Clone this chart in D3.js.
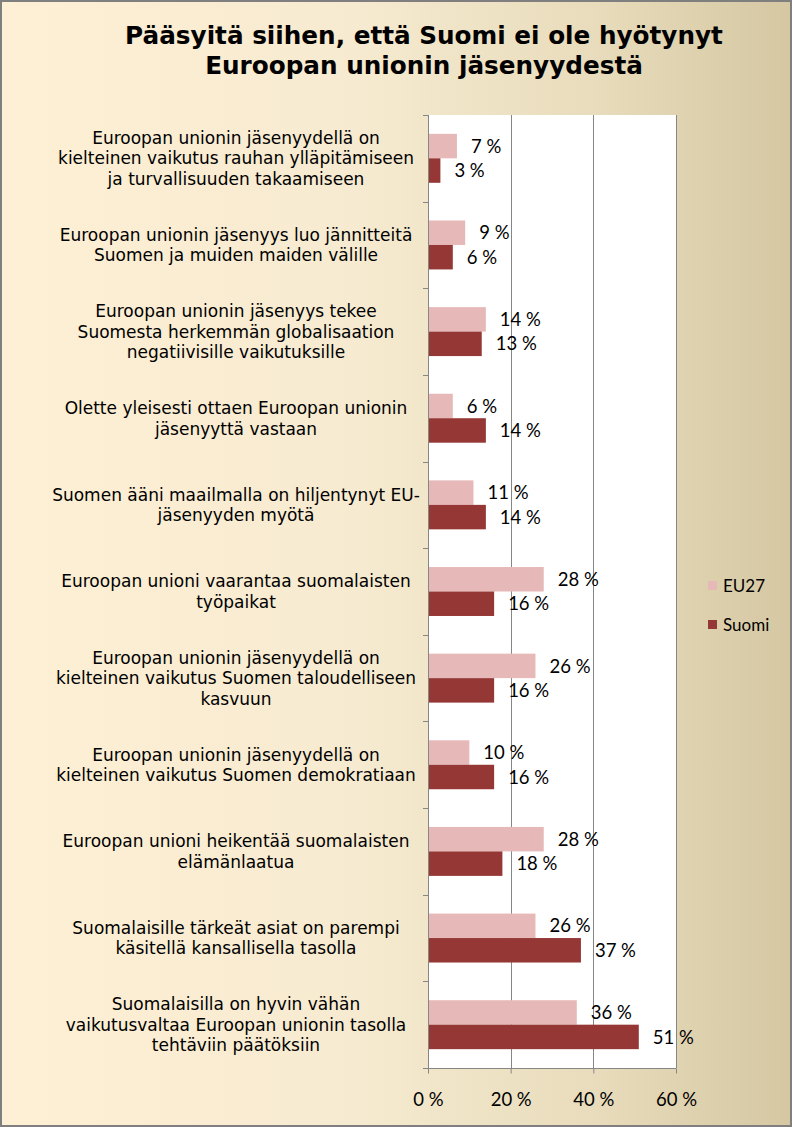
<!DOCTYPE html>
<html>
<head>
<meta charset="utf-8">
<script src="https://cdn.jsdelivr.net/npm/d3@7/dist/d3.min.js"></script>
<style>
  body { margin: 0; padding: 0; background: #fff; }
  svg { display: block; }
</style>
</head>
<body>
<svg id="chart" width="792" height="1127"></svg>
<script>
"use strict";

let titleLines = ["Pääsyitä siihen, että Suomi ei ole hyötynyt", "Euroopan unionin jäsenyydestä"];

let categories = [
  ["Euroopan unionin jäsenyydellä on", "kielteinen vaikutus rauhan ylläpitämiseen", "ja turvallisuuden takaamiseen"],
  ["Euroopan unionin jäsenyys luo jännitteitä", "Suomen ja muiden maiden välille"],
  ["Euroopan unionin jäsenyys tekee", "Suomesta herkemmän globalisaation", "negatiivisille vaikutuksille"],
  ["Olette yleisesti ottaen Euroopan unionin", "jäsenyyttä vastaan"],
  ["Suomen ääni maailmalla on hiljentynyt EU-", "jäsenyyden myötä"],
  ["Euroopan unioni vaarantaa suomalaisten", "työpaikat"],
  ["Euroopan unionin jäsenyydellä on", "kielteinen vaikutus Suomen taloudelliseen", "kasvuun"],
  ["Euroopan unionin jäsenyydellä on", "kielteinen vaikutus Suomen demokratiaan"],
  ["Euroopan unioni heikentää suomalaisten", "elämänlaatua"],
  ["Suomalaisille tärkeät asiat on parempi", "käsitellä kansallisella tasolla"],
  ["Suomalaisilla on hyvin vähän", "vaikutusvaltaa Euroopan unionin tasolla", "tehtäviin päätöksiin"]
];

let seriesNames = ["EU27", "Suomi"];
let eu27 = [7, 9, 14, 6, 11, 28, 26, 10, 28, 26, 36];
let suomi = [3, 6, 13, 14, 14, 16, 16, 16, 18, 37, 51];
let xTicks = [0, 20, 40, 60];

let colors = { EU27: "#E6B9B8", Suomi: "#953735" };

function drawChart() {
  let svg = d3.select("#chart");
  let W = 792, H = 1127;
  let numFont = "Lato, Carlito, sans-serif";

  // background gradient
  let defs = svg.append("defs");
  let grad = defs.append("linearGradient").attr("id", "bg").attr("x1", "0").attr("x2", "1").attr("y1", "0").attr("y2", "0");
  grad.append("stop").attr("offset", "0").attr("stop-color", "#FEF0D5");
  grad.append("stop").attr("offset", "0.45").attr("stop-color", "#F6EAD0");
  grad.append("stop").attr("offset", "0.75").attr("stop-color", "#E8DCBC");
  grad.append("stop").attr("offset", "1").attr("stop-color", "#D5C7A2");

  svg.append("rect").attr("x", 0).attr("y", 0).attr("width", W).attr("height", H).style("fill", "url(#bg)");

  // title
  svg.append("g").selectAll("text").data(titleLines).enter()
    .append("text")
    .attr("x", 424)
    .attr("y", (d, i) => 44 + i * 30)
    .attr("text-anchor", "middle")
    .style("font-family", "'DejaVu Sans', sans-serif")
    .style("font-weight", "bold")
    .style("font-size", "24.7px")
    .style("fill", "#000")
    .text(d => d);

  let plot = { left: 428, right: 676, top: 115, bottom: 1068 };

  let x = d3.scaleLinear().domain([0, 60]).range([plot.left, plot.right]);
  let y = d3.scaleBand().domain(d3.range(categories.length)).range([plot.top, plot.bottom]);
  let groupH = y.bandwidth() * 0.565;
  let ySub = d3.scaleBand().domain(seriesNames).range([0, groupH]);

  // plot area
  svg.append("rect")
    .attr("x", plot.left).attr("y", plot.top)
    .attr("width", plot.right - plot.left).attr("height", plot.bottom - plot.top)
    .style("fill", "#fff");

  // gridlines
  svg.append("g").selectAll("line").data(xTicks.filter(t => t > 0)).enter()
    .append("line")
    .attr("x1", d => Math.round(x(d)) + 0.5).attr("x2", d => Math.round(x(d)) + 0.5)
    .attr("y1", plot.top).attr("y2", plot.bottom)
    .style("stroke", "#868686").style("stroke-width", 1);

  // bars
  let rows = categories.map((c, i) => ({ i: i, values: [
    { name: "EU27", v: eu27[i] },
    { name: "Suomi", v: suomi[i] }
  ]}));

  let rowG = svg.append("g").selectAll("g").data(rows).enter()
    .append("g")
    .attr("transform", d => `translate(0,${y(d.i) + (y.bandwidth() - groupH) / 2})`);

  rowG.selectAll("rect").data(d => d.values).enter()
    .append("rect")
    .attr("x", x(0))
    .attr("y", d => ySub(d.name))
    .attr("width", d => x(d.v) - x(0))
    .attr("height", ySub.bandwidth())
    .style("fill", d => colors[d.name]);

  rowG.selectAll("text").data(d => d.values).enter()
    .append("text")
    .attr("x", d => x(d.v) + 14)
    .attr("y", d => ySub(d.name) + ySub.bandwidth() / 2)
    .attr("dy", "0.36em")
    .style("font-family", numFont)
    .style("font-size", "18.5px")
    .style("fill", "#000")
    .text(d => d.v + " %");

  // y axis
  let yAxisG = svg.append("g");
  yAxisG.append("line")
    .attr("x1", plot.left + 0.5).attr("x2", plot.left + 0.5)
    .attr("y1", plot.top).attr("y2", plot.bottom)
    .style("stroke", "#868686");
  yAxisG.selectAll("line.tick").data(d3.range(categories.length + 1)).enter()
    .append("line").attr("class", "tick")
    .attr("x1", plot.left - 5).attr("x2", plot.left)
    .attr("y1", d => Math.round(plot.top + d * y.step()) + 0.5)
    .attr("y2", d => Math.round(plot.top + d * y.step()) + 0.5)
    .style("stroke", "#868686");

  // category labels
  let lab = svg.append("g").selectAll("text").data(categories).enter()
    .append("text")
    .attr("text-anchor", "middle")
    .style("font-family", "'DejaVu Sans', Verdana, sans-serif")
    .style("font-size", "17px")
    .style("fill", "#000");
  lab.each(function (lines, i) {
    let cy = y(i) + y.bandwidth() / 2;
    let n = lines.length;
    d3.select(this).selectAll("tspan").data(lines).enter()
      .append("tspan")
      .attr("x", 236)
      .attr("y", (l, j) => cy + (j - (n - 1) / 2) * 20.5)
      .attr("dy", "0.36em")
      .text(l => l);
  });

  // x axis
  let xAxis = d3.axisBottom(x).tickValues(xTicks).tickSize(5).tickFormat(d => d + " %");
  let xg = svg.append("g").attr("transform", `translate(0,${plot.bottom + 0.5})`).call(xAxis);
  xg.select(".domain").attr("d", `M${plot.left - 5},0H${plot.right}`).style("stroke", "#868686");
  xg.selectAll(".tick line").style("stroke", "#868686");
  xg.selectAll(".tick text")
    .attr("y", 31)
    .attr("dy", "0.36em")
    .style("font-family", numFont)
    .style("font-size", "18.5px")
    .style("fill", "#000");

  // legend
  let leg = svg.append("g").selectAll("g").data(seriesNames).enter()
    .append("g")
    .attr("transform", (d, i) => `translate(708,${581 + i * 39})`);
  leg.append("rect").attr("width", 9).attr("height", 9).style("fill", d => colors[d]);
  leg.append("text")
    .attr("x", 15).attr("y", 4.5).attr("dy", "0.36em")
    .style("font-family", numFont)
    .style("font-size", "17px")
    .style("fill", "#000")
    .text(d => d);

  // frame
  svg.append("rect").attr("x", 1).attr("y", 1).attr("width", W - 2).attr("height", H - 2)
    .style("fill", "none").style("stroke", "#7F7F7F").style("stroke-width", 2);
}

drawChart();
</script>
</body>
</html>
